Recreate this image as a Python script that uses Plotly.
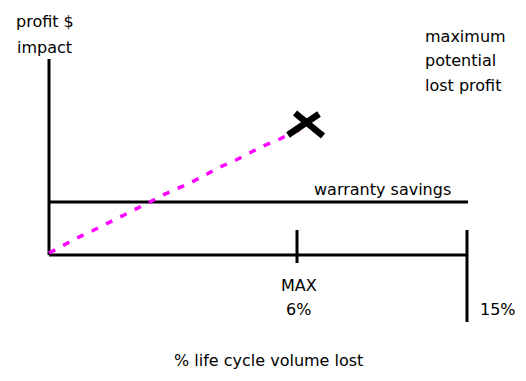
import plotly.graph_objects as go

# Sketch coordinates: x = units right of the origin, y = units above the horizontal axis
axis_top = 196
axis_end = 418
warranty_level = 53
warranty_end = 419
max_pos = 248
max_tick = [25, -8]
full_pos = 418
full_line = [25, -67]

# dotted magenta "lost profit" curve
curve_x = [0, 14, 28, 43, 57, 72, 86, 99, 114, 128, 143, 158, 171, 187, 200, 214, 229, 244, 257]
curve_y = [2, 10, 17, 24, 31, 38, 45, 52, 60, 66, 73, 81, 88, 95, 102, 109, 115, 123, 127]

# the "X" end mark (two strokes)
x_stroke1_x = [246, 274]
x_stroke1_y = [142, 119]
x_stroke2_x = [239, 270]
x_stroke2_y = [120, 141]

# labels
y_title = ["profit $", "impact"]
y_title_x = [-4, -5]
y_title_y = [234, 208]
right_note = ["maximum", "potential", "lost profit"]
right_note_x = 374
right_note_y = [219, 195, 170]
warranty_label = "warranty savings"
warranty_label_pos = (333, 66)
tick_labels = ["MAX", "6%", "15%"]
tick_label_x = [250, 249, 449]
tick_label_y = [-30, -54, -54]
x_title = "% life cycle volume lost"
x_title_pos = (219, -105)

FONT = dict(family="DejaVu Sans", size=16, color="black")
LW = 3

fig = go.Figure()

def seg(xs, ys, color="black", width=LW, dash="solid"):
    fig.add_trace(go.Scatter(x=xs, y=ys, mode="lines",
                             line=dict(color=color, width=width, dash=dash),
                             hoverinfo="skip", showlegend=False))

seg([0, 0], [0, axis_top])
seg([0, axis_end], [0, 0])
seg([0, warranty_end], [warranty_level, warranty_level])
seg([max_pos, max_pos], max_tick)
seg([full_pos, full_pos], full_line)
seg(curve_x, curve_y, color="#FF00FF", width=3.5, dash="7px,9px")
seg(x_stroke1_x, x_stroke1_y, width=6.5)
seg(x_stroke2_x, x_stroke2_y, width=6.5)

ann = []
for t, x, y in zip(y_title, y_title_x, y_title_y):
    ann.append(dict(x=x, y=y, text=t, xanchor="center", yanchor="middle"))
for t, y in zip(right_note, right_note_y):
    ann.append(dict(x=right_note_x, y=y, text=t, xanchor="left", yanchor="middle"))
ann.append(dict(x=warranty_label_pos[0], y=warranty_label_pos[1], text=warranty_label,
                xanchor="center", yanchor="middle"))
for t, x, y in zip(tick_labels, tick_label_x, tick_label_y):
    ann.append(dict(x=x, y=y, text=t, xanchor="center", yanchor="middle"))
ann.append(dict(x=x_title_pos[0], y=x_title_pos[1], text=x_title,
                xanchor="center", yanchor="middle"))
for a in ann:
    a.update(showarrow=False, font=FONT, xref="x", yref="y")

fig.update_layout(
    width=518, height=373,
    margin=dict(l=0, r=0, t=0, b=0),
    paper_bgcolor="white", plot_bgcolor="white",
    xaxis=dict(range=[-41, 477], visible=False, fixedrange=True),
    yaxis=dict(range=[-126, 247], visible=False, fixedrange=True),
    annotations=ann,
    showlegend=False,
)

fig.write_html("out.html")
